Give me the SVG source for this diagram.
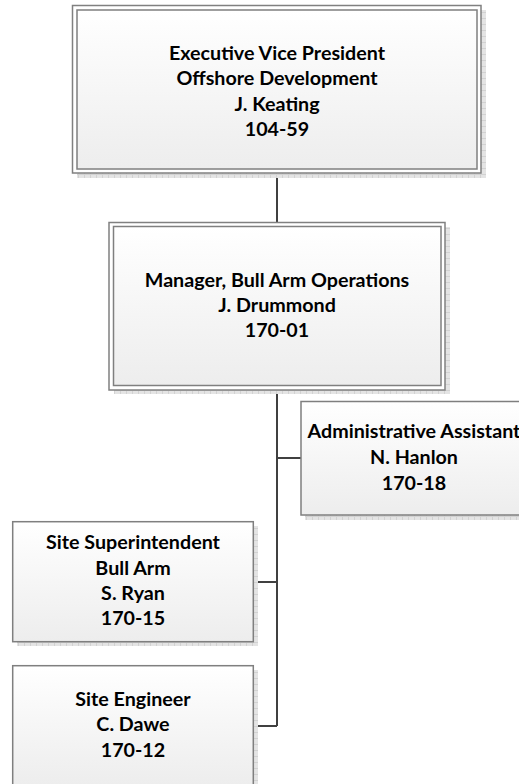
<svg xmlns="http://www.w3.org/2000/svg" width="519" height="784" viewBox="0 0 519 784">
<defs>
<linearGradient id="g" x1="0" y1="0" x2="0" y2="1">
<stop offset="0" stop-color="#ffffff"/>
<stop offset="1" stop-color="#ededed"/>
</linearGradient>
<pattern id="hatch" width="6" height="6" patternUnits="userSpaceOnUse">
<rect width="6" height="6" fill="#e4e4e4"/>
<path d="M0,0.5 H6 M0.5,0 V6" stroke="#d2d2d2" stroke-width="1"/>
</pattern>
</defs>
<style>
.shadow{fill:url(#hatch);}
.box{fill:url(#g);stroke:#7f7f7f;stroke-width:1.5;}
.outer{fill:#ffffff;stroke:#808080;stroke-width:1.5;}
.conn{fill:none;stroke:#404040;stroke-width:2;}
text{font-family:Lato,"Open Sans","Liberation Sans",sans-serif;font-weight:bold;font-size:19.7px;text-anchor:middle;fill:#000;}
</style>
<rect width="519" height="784" fill="#ffffff"/>
<g id="connectors">
<path class="conn" d="M277,173 V222"/>
<path class="conn" d="M277,390 V726"/>
<path class="conn" d="M277,458 H301"/>
<path class="conn" d="M253,582 H277"/>
<path class="conn" d="M253,726 H277"/>
</g>
<g id="evp">
<rect class="shadow" x="77" y="10" width="409" height="168"/>
<rect class="outer" x="72.5" y="5.5" width="408.5" height="167.5"/>
<rect class="box" x="77" y="10" width="400" height="159"/>
<text x="277" y="59.5">Executive Vice President</text>
<text x="277" y="85">Offshore Development</text>
<text x="277" y="110.5">J. Keating</text>
<text x="277" y="136">104-59</text>
</g>
<g id="manager">
<rect class="shadow" x="114" y="227" width="336" height="167"/>
<rect class="outer" x="109" y="222.5" width="336" height="167.5"/>
<rect class="box" x="113.5" y="226.5" width="327.5" height="159"/>
<text x="277" y="287">Manager, Bull Arm Operations</text>
<text x="277" y="311.5">J. Drummond</text>
<text x="277" y="337">170-01</text>
</g>
<g id="admin">
<rect class="shadow" x="305" y="406" width="230" height="114"/>
<rect class="box" x="301" y="401.5" width="226" height="113.5"/>
<text x="414" y="437.5">Administrative Assistant</text>
<text x="414" y="463.5">N. Hanlon</text>
<text x="414" y="490">170-18</text>
</g>
<g id="superintendent">
<rect class="shadow" x="17" y="526" width="241" height="120"/>
<rect class="box" x="12.7" y="521.7" width="240.6" height="120"/>
<text x="133" y="549">Site Superintendent</text>
<text x="133" y="574.5">Bull Arm</text>
<text x="133" y="599.5">S. Ryan</text>
<text x="133" y="625">170-15</text>
</g>
<g id="engineer">
<rect class="shadow" x="17" y="670" width="241" height="120"/>
<rect class="box" x="12.7" y="665.7" width="240.6" height="120"/>
<text x="133" y="706">Site Engineer</text>
<text x="133" y="731">C. Dawe</text>
<text x="133" y="757">170-12</text>
</g>
</svg>
